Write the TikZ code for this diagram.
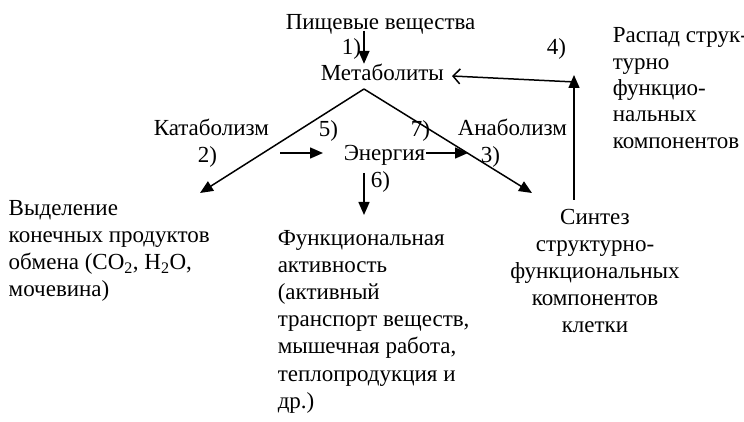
\documentclass[tikz,border=0pt]{standalone}
\usepackage{fontspec}
\setmainfont{Liberation Serif}
\usetikzlibrary{arrows.meta}
\usetikzlibrary{positioning}
\begin{document}
\begin{tikzpicture}[x=1pt, y=-1pt, font=\fontsize{23}{27}\selectfont, line width=1.5pt,
  arr/.style={-{Triangle[length=13pt,width=11pt]}},
  ret/.style={-{Straight Barb[length=7pt,width=15pt]}},
  txt/.style={anchor=base west, inner sep=0pt},
  ctxt/.style={anchor=base, inner sep=0pt}]
 \useasboundingbox (0,0) rectangle (744,422);

 %level 1
 \node[txt] (food) at (285,30) {Пищевые вещества};
 \node[txt] (metab) at (320,81) {Метаболиты};
 \node[txt] (n1) at (341,55) {1)};
 \node[txt] (n4) at (546,55) {4)};
 \coordinate (top) at (364,31);
 \coordinate (apex) at (364,89);
 \draw[arr] (top) -- (top |- metab.north);

 %level 2
 \node[txt] (catab) at (153,136) {Катаболизм};
 \node[txt] (anab) at (457,136) {Анаболизм};
 \node[txt] (n2) at (197,163) {2)};
 \node[txt] (n5) at (318,137) {5)};
 \node[txt] (n7) at (410,137) {7)};
 \node[txt] (n3) at (480,163) {3)};
 \node[txt] (energy) at (343,161) {Энергия};
 \node[txt] (n6) at (370,188) {6)};
 \coordinate (catend) at (200,193);
 \coordinate (anaend) at (532,193);
 \coordinate (in5) at (280,153);
 \coordinate (e5) at (323,153);
 \coordinate (out7) at (468,153);
 \coordinate (e6top) at (364,173);
 \coordinate (e6) at (364,215);
 \draw[arr] (apex) -- (catend);
 \draw[arr] (apex) -- (anaend);
 \draw[arr] (in5) -- (e5);
 \draw[arr] (energy.east |- out7) -- (out7);
 \draw[arr] (e6top) -- (e6);

 %level 3
 \foreach \i/\t in {0/Выделение, 1/конечных продуктов, 2/{обмена (CO\textsubscript{2}, H\textsubscript{2}O,}, 3/мочевина)}
   \node[txt] (excr\i) at (8,215+\i*27.3) {\t};
 \foreach \i/\t in {0/Функциональная, 1/активность, 2/(активный, 3/{транспорт веществ,}, 4/{мышечная работа,}, 5/теплопродукция и, 6/др.)}
   \node[txt] (func\i) at (277,245+\i*27.2) {\t};
 \foreach \i/\t in {0/Синтез, 1/структурно-, 2/функциональных, 3/компонентов, 4/клетки}
   \node[ctxt] (synth\i) at (595,225+\i*26.8) {\t};
 \foreach \i/\t in {0/Распад струк-, 1/турно, 2/функцио-, 3/нальных, 4/компонентов}
   \node[txt] (decay\i) at (612,43+\i*26.3) {\t};

 % return loop
 \coordinate (up) at (574,200);
 \coordinate (corner) at (574,75);
 \coordinate (back) at (452,76);
 \draw[arr] (up) -- (corner);
 \draw[ret] (575,82) -- (back);

\end{tikzpicture}
\end{document}
